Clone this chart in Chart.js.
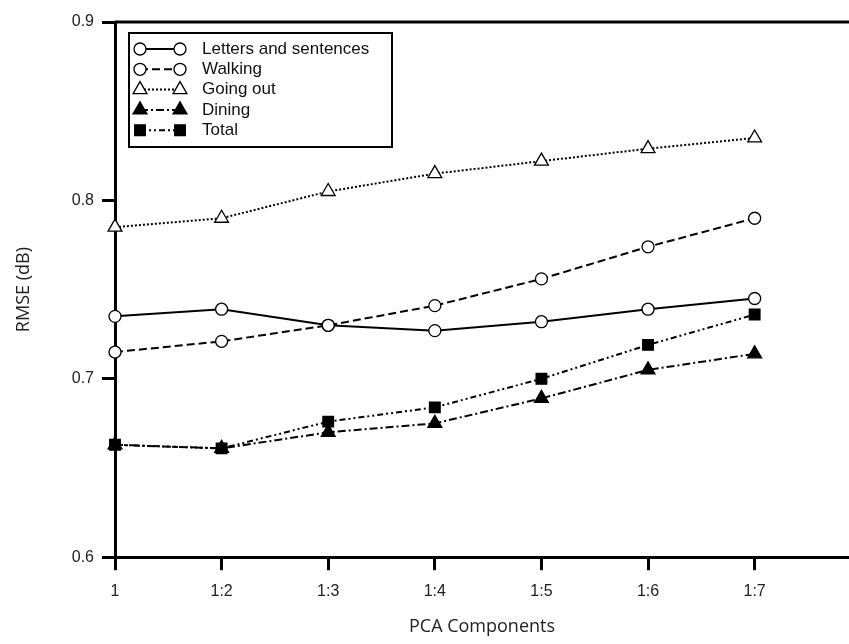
<!DOCTYPE html>
<html>
<head>
<meta charset="utf-8">
<script src="https://cdn.jsdelivr.net/npm/chart.js@4.4.1/dist/chart.umd.min.js"></script>
<style>
  html, body { margin: 0; padding: 0; background: #fff; }
  #wrap { width: 849px; height: 644px; }
</style>
</head>
<body>
<div id="wrap"><canvas id="rmseChart"></canvas></div>
<script>
// categories on the x axis
const components = ['1', '1:2', '1:3', '1:4', '1:5', '1:6', '1:7'];
const yTicks = [0.6, 0.7, 0.8, 0.9];

// RMSE values
const letters = [0.735, 0.739, 0.730, 0.727, 0.732, 0.739, 0.745];
const walking = [0.715, 0.721, 0.730, 0.741, 0.756, 0.774, 0.790];
const goingOut = [0.785, 0.790, 0.805, 0.815, 0.822, 0.829, 0.835];
const dining = [0.663, 0.661, 0.670, 0.675, 0.689, 0.705, 0.714];
const total = [0.663, 0.661, 0.676, 0.684, 0.700, 0.719, 0.736];

function toPoints(values) {
    return values.map((v, i) => ({ x: i, y: v }));
}

function makeSet(label, values, dash, style, radius, fill) {
    return {
        label: label,
        data: toPoints(values),
        borderColor: '#000',
        borderWidth: 2,
        borderDash: dash,
        pointStyle: style,
        pointRadius: radius,
        pointBackgroundColor: fill,
        pointBorderColor: '#000',
        pointBorderWidth: 1.3,
        tension: 0,
        clip: false
    };
}

// legend drawn inside the plot, with a marker at both ends of the sample line
const innerLegend = {
    id: 'innerLegend',
    afterDatasetsDraw(chart) {
        const ctx = chart.ctx;
        const bx = 129, by = 33, bw = 263, bh = 114;
        ctx.save();
        ctx.lineWidth = 2;
        ctx.strokeStyle = '#000';
        ctx.strokeRect(bx, by, bw, bh);
        chart.data.datasets.forEach((ds, i) => {
            const y = 49 + i * 20.3;
            ctx.beginPath();
            ctx.setLineDash(ds.borderDash || []);
            ctx.lineWidth = 2;
            ctx.moveTo(140, y);
            ctx.lineTo(180, y);
            ctx.stroke();
            ctx.setLineDash([]);
            [140, 180].forEach(px => {
                ctx.fillStyle = ds.pointBackgroundColor;
                ctx.strokeStyle = '#000';
                ctx.lineWidth = ds.pointBorderWidth;
                Chart.helpers.drawPoint(ctx, {
                    pointStyle: ds.pointStyle,
                    radius: ds.pointRadius,
                    rotation: 0,
                    borderWidth: ds.pointBorderWidth
                }, px, y);
            });
            ctx.fillStyle = '#111';
            ctx.font = '17px "Liberation Sans", Arial, sans-serif';
            ctx.textBaseline = 'middle';
            ctx.textAlign = 'left';
            ctx.fillText(ds.label, 202, y);
        });
        ctx.restore();
    },
    afterDraw(chart) {
        const ctx = chart.ctx;
        const area = chart.chartArea;
        ctx.save();
        ctx.strokeStyle = '#000';
        ctx.lineWidth = 3;
        ctx.beginPath();
        ctx.moveTo(area.left, area.top);
        ctx.lineTo(chart.width, area.top);
        ctx.stroke();
        ctx.restore();
    }
};

const rmseChart = new Chart(document.getElementById('rmseChart'), {
    type: 'line',
    data: {
        datasets: [
            makeSet('Letters and sentences', letters, [], 'circle', 6, '#fff'),
            makeSet('Walking', walking, [8, 4], 'circle', 6, '#fff'),
            makeSet('Going out', goingOut, [2, 2], 'triangle', 8, '#fff'),
            makeSet('Dining', dining, [8, 3, 2, 3], 'triangle', 8, '#000'),
            makeSet('Total', total, [6, 3, 2, 3, 2, 3], 'rect', 7.5, '#000')
        ]
    },
    options: {
        responsive: true,
        maintainAspectRatio: false,
        animation: false,
        layout: { autoPadding: false, padding: { top: 22, right: 0, left: 0, bottom: 6 } },
        plugins: {
            legend: { display: false },
            tooltip: { enabled: false }
        },
        scales: {
            x: {
                type: 'linear',
                min: 0,
                max: 6.885,
                afterBuildTicks(axis) {
                    axis.ticks = components.map((c, i) => ({ value: i }));
                },
                afterFit(axis) {
                    axis.paddingLeft = 0;
                    axis.paddingRight = 0;
                },
                ticks: {
                    callback: v => components[v],
                    font: { family: '"Liberation Sans", Arial, sans-serif', size: 16 },
                    color: '#222',
                    padding: 12,
                    maxRotation: 0
                },
                grid: {
                    drawOnChartArea: false,
                    color: '#000',
                    tickLength: 13,
                    tickWidth: 3
                },
                border: { color: '#000', width: 3 },
                title: {
                    display: true,
                    text: 'PCA Components',
                    font: { family: '"Open Sans", sans-serif', size: 18 },
                    color: '#222',
                    padding: { top: 3, bottom: 0 }
                }
            },
            y: {
                min: 0.6,
                max: 0.9,
                afterBuildTicks(axis) {
                    axis.ticks = yTicks.map(v => ({ value: v }));
                },
                afterFit(axis) {
                    axis.width = 115;
                },
                ticks: {
                    callback: v => v.toFixed(1),
                    font: { family: '"Liberation Sans", Arial, sans-serif', size: 16 },
                    color: '#222',
                    padding: 8
                },
                grid: {
                    drawOnChartArea: false,
                    color: '#000',
                    tickLength: 13,
                    tickWidth: 3
                },
                border: { color: '#000', width: 3 },
                title: {
                    display: true,
                    text: 'RMSE (dB)',
                    font: { family: '"Open Sans", sans-serif', size: 18 },
                    color: '#222',
                    padding: { top: 13, bottom: 14 }
                }
            }
        }
    },
    plugins: [innerLegend]
});
</script>
</body>
</html>
